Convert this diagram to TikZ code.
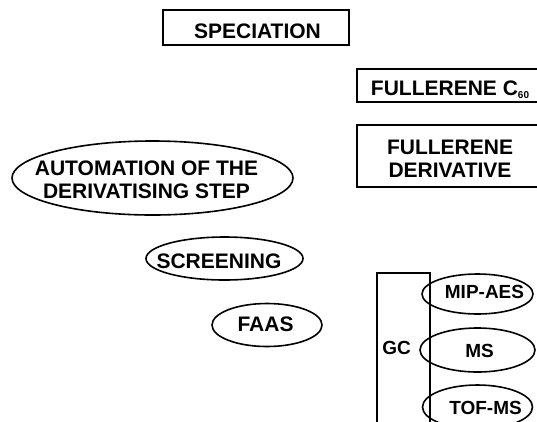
\documentclass[tikz,border=0pt]{standalone}
\usepackage{fontspec}
\setmainfont{Liberation Sans}
\usetikzlibrary{shapes.geometric}
\begin{document}
\begin{tikzpicture}[x=1pt,y=-1pt,
  boxed/.style={draw, line width=1.8pt, rectangle, inner sep=0pt},
  oval/.style={draw, line width=1.6pt, ellipse, inner sep=0pt},
  txt/.style={font=\fontsize{21}{23}\selectfont\bfseries, align=center, inner sep=0pt},
  smalltxt/.style={font=\fontsize{19}{21}\selectfont\bfseries, inner sep=0pt}]
\useasboundingbox (0,0) rectangle (537,421);
\clip (0,0) rectangle (537,421);

% rectangular boxes
\node[boxed, minimum width=186pt, minimum height=35pt] (spec) at (256,27.5) {};
\node[txt] (specT) at (257.5,30.8) {SPECIATION};

\node[boxed, minimum width=186pt, minimum height=33pt] (csixty) at (450,85.5) {};
\node[txt] (csixtyT) at (450,89.5) {FULLERENE C\raisebox{-3.5pt}{\fontsize{10}{10}\selectfont 60}};

\node[boxed, minimum width=186pt, minimum height=62pt] (deriv) at (450,156) {};
\node[txt] (derivT) at (450,158.5) {FULLERENE\\DERIVATIVE};

\node[boxed, minimum width=53pt, minimum height=167pt] (gc) at (403.5,356.5) {};
\node[smalltxt] (gcT) at (396.7,347.5) {GC};

% ovals
\node[oval, minimum width=281pt, minimum height=74pt] (auto) at (152.5,178) {};
\node[txt] (autoT) at (146.5,180) {AUTOMATION OF THE\\DERIVATISING STEP};

\node[oval, minimum width=157pt, minimum height=43pt] (screen) at (224.5,258.5) {};
\node[txt] (screenT) at (219,261) {SCREENING};

\node[oval, minimum width=110pt, minimum height=43pt] (faas) at (267,325) {};
\node[txt] (faasT) at (265.5,323.8) {FAAS};

\node[oval, minimum width=111pt, minimum height=40pt] (mip) at (477.5,294) {};
\node[smalltxt] (mipT) at (484.5,291.7) {MIP-AES};

\node[oval, minimum width=115pt, minimum height=44pt] (ms) at (477.5,350) {};
\node[smalltxt] (msT) at (479.5,350.5) {MS};

\node[oval, minimum width=110pt, minimum height=44pt] (tof) at (477.5,407) {};
\node[smalltxt] (tofT) at (485.5,408) {TOF-MS};
\end{tikzpicture}
\end{document}
